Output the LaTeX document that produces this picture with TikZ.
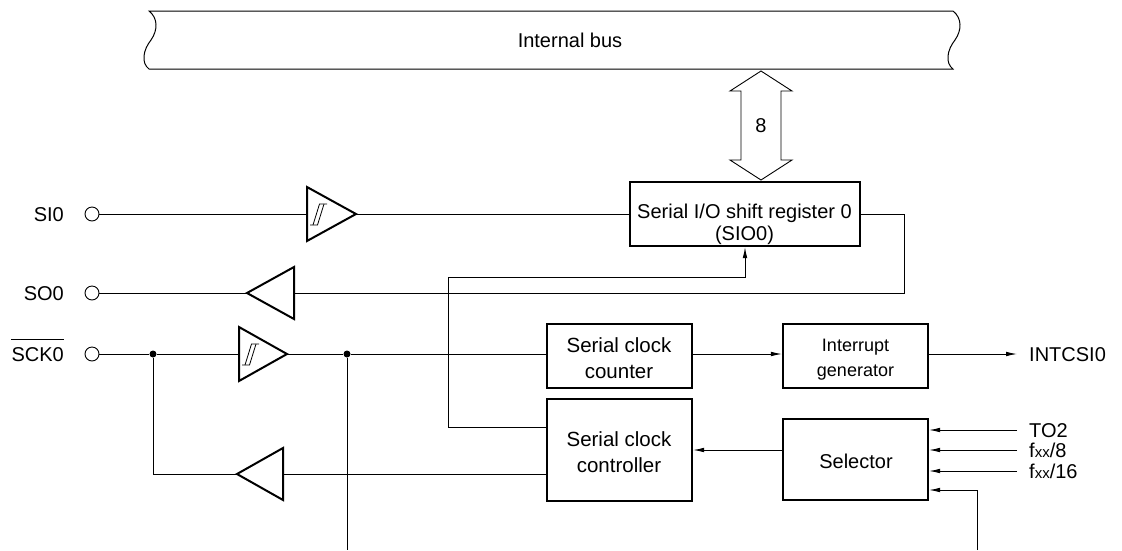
\documentclass[tikz,border=0pt]{standalone}
\usepackage{fontspec}
\setmainfont{Liberation Sans}
\usetikzlibrary{arrows.meta,calc}
\begin{document}
\begin{tikzpicture}[x=1pt,y=-1pt,
  ln/.style={line width=0.9pt},
  arr/.style={ln,-{Latex[length=11pt,width=4.6pt]}},
  blk/.style={draw,line width=2.2pt,inner sep=0pt},
  buf/.style={draw,line width=2pt,line join=miter},
  pin/.style={draw,circle,line width=0.9pt,minimum size=14pt,inner sep=0pt},
  dot/.style={circle,fill,minimum size=7pt,inner sep=0pt},
  txt/.style={font=\fontsize{20}{24}\selectfont,inner sep=0pt,text height=14.3pt,text depth=0pt,align=center},
  schm/.pic={\draw[line width=0.8pt] (3,11) -- (10.5,11) -- (17,-10);
             \draw[line width=0.8pt] (6,11) -- (12.5,-10) -- (20,-10);}
]
\useasboundingbox (0,0) rectangle (1122,550);

% internal bus
\draw[line width=1pt,fill=white] (149,11) -- (953,11)
  .. controls (962,18) and (962,30) .. (955,40)
  .. controls (947,50) and (945,63) .. (953,69) -- (149,69)
  .. controls (141,63) and (143,50) .. (151,40)
  .. controls (158,30) and (158,18) .. (149,11) -- cycle;
\node[txt] (bus) at (570,40) {Internal bus};

% blocks (text nodes are placed at the cap centre of their last line)
\node[blk,minimum width=230pt,minimum height=64pt] (sio) at (745,214) {};
\node[txt,font=\fontsize{20}{22.5}\selectfont] (siot) at (744.5,233.8) {Serial I/O shift register 0\\(SIO0)};
\node[blk,minimum width=145pt,minimum height=64pt] (cnt) at (619.5,356) {};
\node[txt,font=\fontsize{20.5}{25.5}\selectfont] (cntt) at (619,371) {Serial clock\\counter};
\node[blk,minimum width=145pt,minimum height=102pt] (ctl) at (619.5,450) {};
\node[txt,font=\fontsize{20.5}{26}\selectfont] (ctlt) at (619,465.1) {Serial clock\\controller};
\node[blk,minimum width=145pt,minimum height=64pt] (intg) at (855.5,356) {};
\node[txt,font=\fontsize{18}{24.6}\selectfont,text height=12.9pt] (intgt) at (855.5,369.6) {Interrupt\\generator};
\node[blk,minimum width=145pt,minimum height=81pt] (sel) at (855.5,459.5) {};
\node[txt] (selt) at (856,461.5) {Selector};

% double arrow 8
\draw[line width=0.9pt,line join=miter] (761,71) -- (792,91) -- (781,91) -- (781,160) -- (792,160)
  -- (761,180) -- (730,160) -- (741,160) -- (741,91) -- (730,91) -- cycle;
\node[txt] (eight) at (761,125) {8};

% pins and labels
\node[pin] (pSI) at (92,214) {};
\node[pin] (pSO) at (92,293) {};
\node[pin] (pSCK) at (92,354) {};
\node[txt,anchor=east] (lSI) at (64,214) {SI0};
\node[txt,anchor=east] (lSO) at (64,293) {SO0};
\node[txt,anchor=east] (lSCK) at (64,354) {SCK0};
\draw[line width=1pt] ([yshift=7.5pt]lSCK.north west) -- ([yshift=7.5pt]lSCK.north east);

\node[txt,anchor=west] (lINT) at (1029,354) {INTCSI0};
\node[txt,anchor=west] (lTO) at (1029,430) {TO2};
\node[txt,anchor=west] (lF8) at (1029,450) {f{\fontsize{15}{15}\selectfont xx}/8};
\node[txt,anchor=west] (lF16) at (1029,471) {f{\fontsize{15}{15}\selectfont xx}/16};

% buffers
\coordinate (b1in) at (307,214); \coordinate (b1out) at (356,214);
\draw[buf] (307,187) -- (356,214) -- (307,241) -- cycle;
\pic at (b1in) {schm};
\coordinate (b2in) at (294,293); \coordinate (b2out) at (247,293);
\draw[buf] (294,267) -- (247,293) -- (294,319) -- cycle;
\coordinate (b3in) at (239,354); \coordinate (b3out) at (287,354);
\draw[buf] (239,327) -- (287,354) -- (239,381) -- cycle;
\pic at (b3in) {schm};
\coordinate (b4in) at (283,474); \coordinate (b4out) at (237,474);
\draw[buf] (283,448) -- (237,474) -- (283,500) -- cycle;

% junctions and helper coordinates
\node[dot] (d1) at (153,354) {};
\node[dot] (d2) at (347,354) {};
\coordinate (soR) at (904,293);
\coordinate (fbY) at (0,427);
\coordinate (fbL) at (448,277);
\coordinate (ySEL) at (0,450);
\coordinate (y490) at (0,490);
\coordinate (bot) at (0,550);
\coordinate (selIn) at (977,550);

% connectors
\draw[ln] (pSI.east) -- (b1in);
\draw[ln] (b1out) -- (sio.west);
\draw[ln] (sio.east) -| (soR) -- (b2in);
\draw[ln] (b2out) -- (pSO.east);
\draw[ln] (pSCK.east) -- (d1) -- (b3in);
\draw[ln] (b3out) -- (d2) -- (cnt.west |- d2);
\draw[ln] (d1) |- (b4out);
\draw[ln] (b4in) -- (ctl.west |- b4in);
\draw[ln] (d2) -- (d2 |- bot);
\draw[arr] (ctl.west |- fbY) -| (fbL) -| (sio.south);
\draw[arr] (cnt.east |- d2) -- (intg.west |- d2);
\draw[arr] (intg.east |- d2) -- ([xshift=-12pt]lINT.west);
\draw[arr] (sel.west |- ySEL) -- (ctl.east |- ySEL);
\draw[arr] ([xshift=-12pt]lTO.west) -- (sel.east |- lTO);
\draw[arr] ([xshift=-12pt]lF8.west) -- (sel.east |- lF8);
\draw[arr] ([xshift=-12pt]lF16.west) -- (sel.east |- lF16);
\draw[arr] (selIn) |- (sel.east |- y490);
\end{tikzpicture}
\end{document}
